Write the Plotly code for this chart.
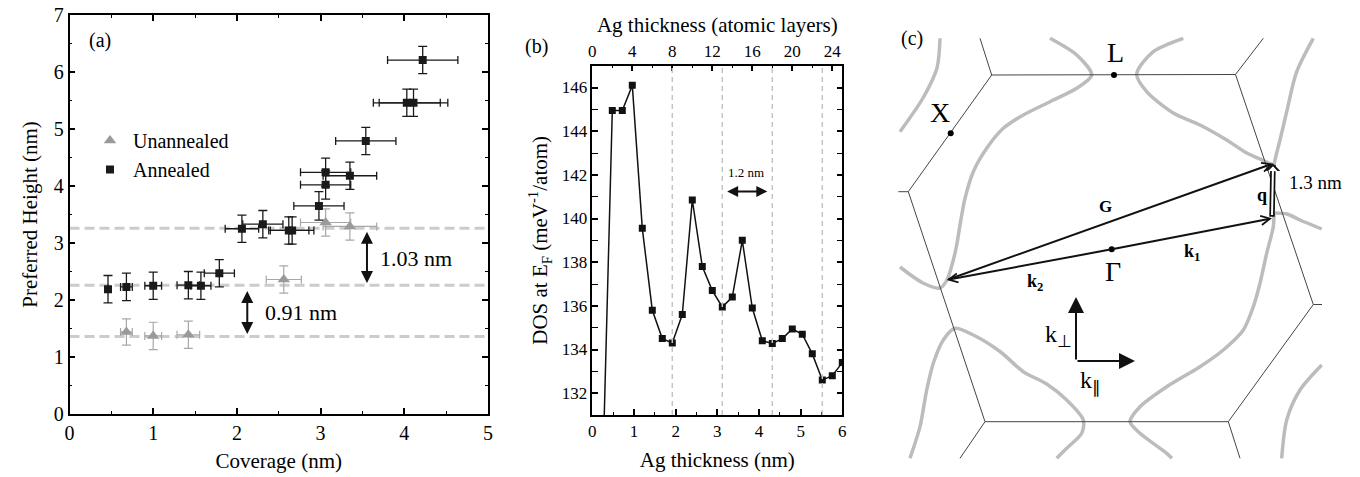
import plotly.graph_objects as go

W, H = 1360, 477
FONT = "Liberation Serif, Times New Roman, serif"

# ---------------- Panel (a) data ----------------
ann_x = [0.46, 0.68, 1.00, 1.42, 1.57, 1.79, 2.06, 2.31, 2.62, 2.66, 2.98, 3.06, 3.06, 3.35, 3.54, 4.03, 4.11, 4.22]
ann_y = [2.19, 2.23, 2.25, 2.26, 2.25, 2.47, 3.25, 3.33, 3.22, 3.22, 3.65, 4.02, 4.24, 4.18, 4.79, 5.46, 5.46, 6.21]
ann_xerr = [0.0, 0.07, 0.10, 0.135, 0.12, 0.18, 0.20, 0.24, 0.24, 0.26, 0.30, 0.30, 0.30, 0.32, 0.36, 0.40, 0.41, 0.42]
ann_yerr = [0.24, 0.24, 0.24, 0.24, 0.24, 0.24, 0.24, 0.24, 0.24, 0.24, 0.25, 0.25, 0.25, 0.24, 0.24, 0.24, 0.24, 0.24]
unann_x = [0.68, 1.00, 1.42, 2.56, 3.06, 3.35]
unann_y = [1.44, 1.37, 1.39, 2.36, 3.36, 3.29]
unann_xerr = [0.07, 0.10, 0.135, 0.21, 0.30, 0.32]
unann_yerr = [0.23, 0.24, 0.24, 0.24, 0.24, 0.24]
level_y = [1.36, 2.26, 3.26]
gap_labels = ["0.91 nm", "1.03 nm"]

# ---------------- Panel (b) data ----------------
layer_count = [1, 2, 3, 4, 5, 6, 7, 8, 9, 10, 11, 12, 13, 14, 15, 16, 17, 18, 19, 20, 21, 22, 23, 24, 25]
thickness_nm = [0.24, 0.48, 0.72, 0.96, 1.20, 1.44, 1.68, 1.92, 2.16, 2.40, 2.64, 2.88, 3.12,
                3.36, 3.60, 3.84, 4.08, 4.32, 4.56, 4.80, 5.04, 5.28, 5.52, 5.76, 6.00]
dos_meV = [127.6, 144.95, 144.95, 146.1, 139.55, 135.8, 134.5, 134.3, 135.6, 140.85, 137.8, 136.7, 135.95,
           136.4, 139.0, 135.9, 134.4, 134.28, 134.5, 134.94, 134.7, 133.8, 132.6, 132.8, 133.4]
minima_nm = [1.92, 3.12, 4.32, 5.52]
layer_ticks = [0, 4, 8, 12, 16, 20, 24]

# ---------------- Panel (c) schematic geometry (diagram units) ----------------
hex_main = [(991.7, 75), (1235.5, 74.5), (1313.3, 304.5), (1228.3, 421.7), (985, 421.7), (908.3, 191.7), (991.7, 75)]
hex_stubs = [[(991.7, 75), (980, 38.3)], [(1235.5, 74.5), (1263.3, 38.3)], [(908.3, 191.7), (898.3, 191.7)],
             [(1313.3, 304.5), (1322, 304.5)], [(985, 421.7), (960, 458.3)], [(1228.3, 421.7), (1240, 458.3)]]
fs_upper_left = [(940, 38.3), (937, 68), (923, 98), (900, 131.7)]
fs_central_left = [(1050, 38.3), (1076.7, 55), (1091.7, 75), (1076.7, 88.3), (1050, 101.7), (1023.3, 115),
                   (1003.3, 128.3), (986.7, 148.3), (973.3, 171.7), (965, 198.3), (960, 225), (956.7, 245),
                   (952, 265), (947, 280), (940, 288), (923, 283), (900, 267)]
fs_central_top_right = [(1183.3, 38.3), (1153.3, 51.7), (1136.7, 74), (1146.7, 91.7), (1173.3, 113),
                        (1200, 125), (1226.7, 140), (1246.7, 153), (1263.3, 160.5), (1273.3, 165)]
fs_upper_right = [(1313.3, 38.3), (1296.7, 71.7), (1286.7, 111.7), (1280, 140), (1275, 160), (1273.3, 170)]
fs_lower_right_neck = [(1275, 213), (1287, 214), (1300, 220), (1321.7, 229)]
fs_central_right = [(1274, 213), (1273.3, 226.7), (1266.7, 253.3), (1260, 283.3), (1253.3, 306.7),
                    (1243.3, 330), (1223.3, 350), (1200, 366.7), (1166.7, 386.7), (1140, 406.7),
                    (1130, 421.7), (1140, 433.3), (1166.7, 453.3), (1172, 458.3)]
fs_lower_left = [(910, 458.3), (920, 426.7), (926.7, 390), (933.3, 363.3), (943.3, 340), (955, 328.3),
                 (973.3, 335), (1000, 351.5), (1023.3, 371.7), (1046.7, 384), (1066.7, 400), (1083.3, 420),
                 (1081.7, 433.3), (1066.7, 448.3), (1056.7, 458.3)]
fs_lower_right = [(1321.7, 365), (1300, 390), (1286.7, 420), (1281.7, 458.3)]
pt_gamma = (1111.7, 249.3)
pt_L = (1114, 75)
pt_X = (950.7, 133.3)
pt_k1 = (1272, 218.3)
pt_k2 = (946.7, 280)
pt_G = (1273, 163.5)
pt_axes_origin = (1076, 361)
pt_kperp = (1076, 297)
pt_kpar = (1135, 361)

fig = go.Figure()

# ---- Panel (a) traces ----
fig.add_trace(go.Scatter(
    x=unann_x, y=unann_y, mode='markers', name='Unannealed', xaxis='x', yaxis='y',
    marker=dict(symbol='triangle-up', size=11, color='#9a9a9a'),
    error_x=dict(type='data', array=unann_xerr, color='#a8a8a8', thickness=1.2, width=4),
    error_y=dict(type='data', array=unann_yerr, color='#a8a8a8', thickness=1.2, width=4.5)))
fig.add_trace(go.Scatter(
    x=ann_x, y=ann_y, mode='markers', name='Annealed', xaxis='x', yaxis='y',
    marker=dict(symbol='square', size=8, color='#1a1a1a'),
    error_x=dict(type='data', array=ann_xerr, color='#1a1a1a', thickness=1.3, width=4),
    error_y=dict(type='data', array=ann_yerr, color='#1a1a1a', thickness=1.3, width=4.5)))

shapes = []
for ly in level_y:
    shapes.append(dict(type='line', xref='x', yref='y', x0=0, x1=5, y0=ly, y1=ly, layer='below',
                       line=dict(color='#cccccc', width=3, dash='10px,5px')))

annotations = []
annotations.append(dict(xref='x', yref='y', x=0.37, y=6.56, text='(a)', showarrow=False,
                        font=dict(family=FONT, size=20, color='black')))
# double arrows
for (xa, ya0, ya1) in [(2.124, level_y[1] - 0.075, level_y[0] + 0.045), (3.554, level_y[2] - 0.035, level_y[1] + 0.04)]:
    annotations.append(dict(xref='x', yref='y', axref='x', ayref='y', x=xa, y=ya1, ax=xa, ay=ya0,
                            text='', showarrow=True, arrowhead=2, arrowside='end+start', arrowsize=1.2,
                            arrowwidth=2, arrowcolor='#111111', standoff=0, startstandoff=0))
annotations.append(dict(xref='x', yref='y', x=2.765, y=1.78, text=gap_labels[0], showarrow=False,
                        font=dict(family=FONT, size=22, color='black')))
annotations.append(dict(xref='x', yref='y', x=4.14, y=2.73, text=gap_labels[1], showarrow=False,
                        font=dict(family=FONT, size=22, color='black')))

# ---- Panel (b) traces ----
fig.add_trace(go.Scatter(
    x=thickness_nm, y=dos_meV, mode='lines+markers', xaxis='x2', yaxis='y2', showlegend=False,
    line=dict(color='#111111', width=1.5),
    marker=dict(symbol='square', size=7, color='#111111')))
fig.add_trace(go.Scatter(
    x=[layer_ticks[0], layer_ticks[-1]], y=[dos_meV[5], dos_meV[5]], mode='markers', xaxis='x3', yaxis='y2',
    showlegend=False, hoverinfo='skip', marker=dict(opacity=0)))
for mx in minima_nm:
    shapes.append(dict(type='line', xref='x2', yref='y2', x0=mx, x1=mx, y0=131, y1=147, layer='above',
                       line=dict(color='#c4c4c4', width=1.5, dash='5px,4px')))
annotations.append(dict(xref='x2', yref='y2', axref='x2', ayref='y2', x=4.2, y=141.24, ax=3.2, ay=141.24,
                        text='', showarrow=True, arrowhead=2, arrowside='end+start', arrowsize=1.1,
                        arrowwidth=2, arrowcolor='#111111', standoff=0, startstandoff=0))
annotations.append(dict(xref='x2', yref='y2', x=3.7, y=142.1, text='1.2 nm', showarrow=False,
                        font=dict(family=FONT, size=13, color='black')))
annotations.append(dict(xref='paper', yref='paper', x=536 / W, y=(H - 33) / H, text='(b)', showarrow=False,
                        font=dict(family=FONT, size=20, color='black')))

# ---- Panel (c) traces ----
def xs(pts):
    return [p[0] for p in pts]

def ys(pts):
    return [p[1] for p in pts]

for curve in [fs_upper_left, fs_central_left, fs_central_top_right, fs_upper_right, fs_lower_right_neck,
              fs_central_right, fs_lower_left, fs_lower_right]:
    fig.add_trace(go.Scatter(x=xs(curve), y=ys(curve), mode='lines', xaxis='x4', yaxis='y4', showlegend=False,
                             hoverinfo='skip', line=dict(color='#bcbcbc', width=3.5, shape='spline', smoothing=0.8)))

hx, hy = xs(hex_main), ys(hex_main)
for st in hex_stubs:
    hx += [None] + xs(st)
    hy += [None] + ys(st)
fig.add_trace(go.Scatter(x=hx, y=hy, mode='lines', xaxis='x4', yaxis='y4', showlegend=False, hoverinfo='skip',
                         line=dict(color='#444444', width=1)))
fig.add_trace(go.Scatter(x=[pt_X[0], pt_L[0], pt_gamma[0]], y=[pt_X[1], pt_L[1], pt_gamma[1]], mode='markers',
                         xaxis='x4', yaxis='y4', showlegend=False, hoverinfo='skip',
                         marker=dict(color='black', size=6)))

def arrow(head, tail, **kw):
    d = dict(xref='x4', yref='y4', axref='x4', ayref='y4', x=head[0], y=head[1], ax=tail[0], ay=tail[1],
             text='', showarrow=True, standoff=0, arrowcolor='#111111')
    d.update(kw)
    return d

annotations.append(arrow(pt_G, pt_k2, arrowhead=5, arrowsize=0.9, arrowwidth=2))
annotations.append(arrow(pt_k1, pt_gamma, arrowhead=5, arrowsize=0.9, arrowwidth=2))
annotations.append(arrow(pt_k2, pt_gamma, arrowhead=5, arrowsize=0.9, arrowwidth=2))
# hollow q arrow: black outline then white core
annotations.append(arrow(pt_G, pt_k1, arrowhead=1, arrowsize=0.45, arrowwidth=5.5))
annotations.append(arrow((pt_G[0], pt_G[1] + 2.8), (pt_k1[0], pt_k1[1] - 1.8), arrowhead=1, arrowsize=0.8,
                         arrowwidth=2, arrowcolor='white'))
annotations.append(arrow(pt_kperp, pt_axes_origin, arrowhead=2, arrowsize=1.6, arrowwidth=2))
annotations.append(arrow(pt_kpar, pt_axes_origin, arrowhead=2, arrowsize=1.6, arrowwidth=2))

def label(x, y, text, size, **kw):
    d = dict(xref='x4', yref='y4', x=x, y=y, text=text, showarrow=False,
             font=dict(family=FONT, size=size, color='black'))
    d.update(kw)
    return d

annotations += [
    label(911.7, 38.3, '(c)', 20),
    label(940, 112, 'X', 28),
    label(1115, 52, 'L', 28),
    label(1113.3, 271, 'Γ', 28),
    label(1105, 206.7, '<b>G</b>', 17),
    label(1192, 252, '<b>k<sub>1</sub></b>', 18),
    label(1035, 282, '<b>k<sub>2</sub></b>', 18),
    label(1262, 195, '<b>q</b>', 18),
    label(1315, 182, '1.3 nm', 19),
    label(1058, 336, 'k<sub>⊥</sub>', 24),
    label(1090, 382, 'k<sub>∥</sub>', 24),
]

tickfont_a = dict(family=FONT, size=20, color='black')
tickfont_b = dict(family=FONT, size=17, color='black')
titlefont = dict(family=FONT, size=21, color='black')
base = dict(showline=True, linecolor='black', linewidth=1.5, ticks='inside', tickcolor='black', tickwidth=1.5,
            showgrid=False, zeroline=False, automargin=False)

fig.update_layout(
    width=W, height=H, margin=dict(l=0, r=0, t=0, b=0, autoexpand=False),
    paper_bgcolor='white', plot_bgcolor='white',
    font=dict(family=FONT, color='black'),
    showlegend=True,
    legend=dict(x=87 / W, y=(H - 121) / H, xanchor='left', yanchor='top', bgcolor='rgba(0,0,0,0)',
                font=dict(family=FONT, size=20, color='black'), tracegroupgap=0, itemwidth=36),
    xaxis=dict(**base, domain=[69.5 / W, 488 / W], range=[0, 5], dtick=1, ticklen=6, mirror='allticks',
               anchor='y', tickfont=tickfont_a,
               minor=dict(dtick=0.5, ticks='inside', ticklen=3, tickcolor='black', tickwidth=1.2),
               title=dict(text='Coverage (nm)', font=titlefont, standoff=11)),
    yaxis=dict(**base, domain=[(H - 414) / H, (H - 15) / H], range=[0, 7], dtick=1, ticklen=6, mirror='allticks',
               anchor='x', tickfont=tickfont_a,
               minor=dict(dtick=0.5, ticks='inside', ticklen=3, tickcolor='black', tickwidth=1.2),
               title=dict(text='Preferred Height (nm)', font=titlefont, standoff=10)),
    xaxis2=dict(**base, domain=[592.3 / W, 842.3 / W], range=[0, 6], dtick=1, ticklen=6, anchor='y2',
                tickfont=tickfont_b,
                minor=dict(dtick=0.5, ticks='inside', ticklen=3, tickcolor='black', tickwidth=1.2),
                title=dict(text='Ag thickness (nm)', font=titlefont, standoff=12)),
    xaxis3=dict(**base, domain=[592.3 / W, 842.3 / W], range=[0, 25], tickvals=layer_ticks, ticklen=6,
                anchor='y2', overlaying='x2', side='top', tickfont=tickfont_b,
                minor=dict(dtick=2, ticks='inside', ticklen=3, tickcolor='black', tickwidth=1.2),
                title=dict(text='Ag thickness (atomic layers)', font=titlefont, standoff=4)),
    yaxis2=dict(**base, domain=[(H - 415) / H, (H - 65.7) / H], range=[131, 147], dtick=2, ticklen=6,
                mirror='allticks', anchor='x2', tickfont=tickfont_b,
                minor=dict(dtick=1, ticks='inside', ticklen=3, tickcolor='black', tickwidth=1.2),
                title=dict(text='DOS at E<sub>F</sub> (meV<sup>-1</sup>/atom)', font=titlefont, standoff=8)),
    xaxis4=dict(domain=[880 / W, 1340 / W], range=[880, 1340], visible=False, anchor='y4', automargin=False),
    yaxis4=dict(domain=[0, 1], range=[477, 0], visible=False, anchor='x4', automargin=False),
    shapes=shapes,
    annotations=annotations,
)

fig.write_html("out.html",
               post_script="document.body.style.margin='0';document.body.style.padding='0';"
                           "document.documentElement.style.margin='0';document.documentElement.style.overflow='hidden';")
